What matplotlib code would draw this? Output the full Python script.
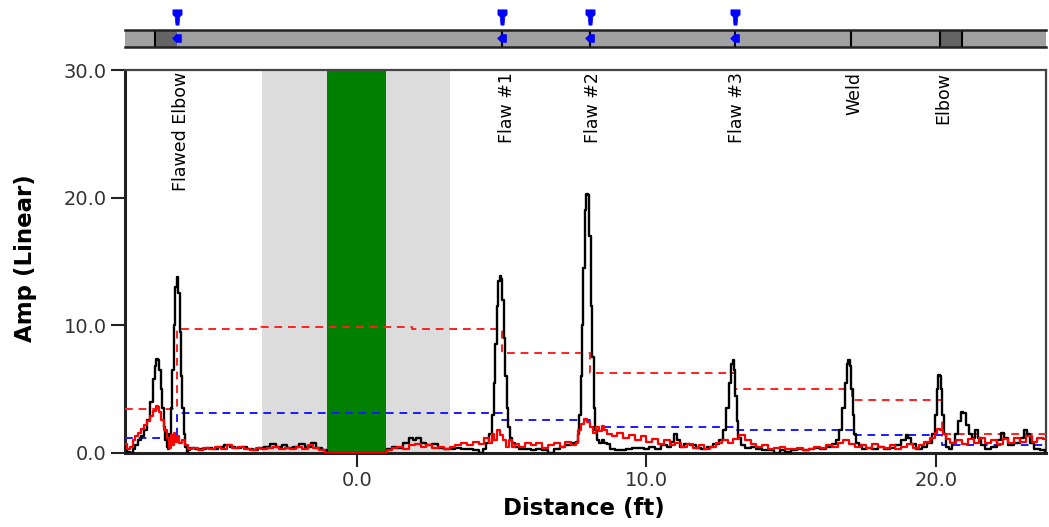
import matplotlib
matplotlib.use("Agg")
import matplotlib.pyplot as plt
from matplotlib.path import Path

plt.rcParams['font.family'] = ['DejaVu Sans']

# ---------------- data ----------------
black_x = [-8.0, -7.9, -7.8, -7.7, -7.6, -7.5, -7.4, -7.3, -7.2, -7.1, -7.0, -6.95, -6.9, -6.85, -6.8,
           -6.75, -6.7, -6.65, -6.6, -6.55, -6.5, -6.45, -6.4, -6.35, -6.3, -6.25, -6.2, -6.15, -6.1,
           -6.05, -6.0, -5.95, -5.9, -5.85, -5.8, -5.7, -5.5, -5.3, -5.1, -4.9, -4.7, -4.5, -4.3, -4.1,
           -3.9, -3.7, -3.5, -3.3, -3.1, -2.9, -2.7, -2.5, -2.3, -2.1, -1.9, -1.7, -1.5, -1.3, -1.1,
           -1.0, -0.5, 0.0, 0.5, 1.0, 1.1, 1.3, 1.5, 1.7, 1.9, 2.0, 2.1, 2.3, 2.5, 2.7, 2.9, 3.1, 3.3,
           3.5, 3.7, 3.9, 4.1, 4.3, 4.4, 4.5, 4.6, 4.7, 4.75, 4.8, 4.85, 4.9, 4.95, 5.0, 5.05, 5.1,
           5.15, 5.2, 5.25, 5.3, 5.4, 5.5, 5.7, 5.9, 6.1, 6.3, 6.5, 6.7, 6.9, 7.1, 7.3, 7.5, 7.6, 7.65,
           7.7, 7.75, 7.8, 7.85, 7.9, 7.95, 8.0, 8.05, 8.1, 8.15, 8.2, 8.25, 8.3, 8.4, 8.5, 8.6, 8.7,
           8.8, 9.0, 9.2, 9.4, 9.6, 9.8, 10.0, 10.2, 10.4, 10.6, 10.8, 10.9, 11.0, 11.1, 11.2, 11.4,
           11.6, 11.8, 12.0, 12.2, 12.4, 12.6, 12.7, 12.8, 12.9, 12.95, 13.0, 13.05, 13.1, 13.15,
           13.2, 13.3, 13.5, 13.7, 13.9, 14.1, 14.3, 14.5, 14.7, 14.9, 15.1, 15.3, 15.5, 15.7, 15.9,
           16.1, 16.3, 16.5, 16.6, 16.7, 16.8, 16.9, 16.95, 17.0, 17.05, 17.1, 17.15, 17.2, 17.3,
           17.4, 17.5, 17.7, 17.9, 18.1, 18.3, 18.5, 18.7, 18.9, 19.0, 19.1, 19.2, 19.4, 19.6, 19.8,
           19.9, 20.0, 20.05, 20.1, 20.15, 20.2, 20.25, 20.3, 20.4, 20.5, 20.6, 20.7, 20.8, 20.9,
           21.0, 21.1, 21.2, 21.3, 21.4, 21.5, 21.6, 21.8, 22.0, 22.2, 22.3, 22.4, 22.6, 22.8, 23.0,
           23.1, 23.2, 23.3, 23.5, 23.7, 23.8]
black_y = [0.4, 0.1, 0.0, 0.3, 0.6, 1.0, 1.3, 1.8, 2.6, 4.0, 5.8, 6.8, 7.4, 7.3, 6.5,
           5.0, 3.5, 2.0, 1.0, 0.5, 0.3, 1.5, 3.5, 6.5, 10.0, 13.0, 13.8, 12.5, 9.5,
           6.0, 3.5, 1.5, 0.5, 0.0, 0.2, 0.4, 0.3, 0.3, 0.4, 0.3, 0.5, 0.6, 0.5, 0.4,
           0.5, 0.3, 0.2, 0.4, 0.5, 0.7, 0.5, 0.6, 0.4, 0.5, 0.7, 0.5, 0.8, 0.4, 0.2,
           0.0, 0.0, 0.0, 0.0, 0.0, 0.3, 0.5, 0.4, 0.8, 1.2, 1.0, 1.2, 0.8, 0.6, 0.7, 0.4, 0.3, 0.3,
           0.4, 0.3, 0.3, 0.2, 0.0, 0.3, 0.8, 1.5, 3.0, 5.5, 8.5, 11.5, 13.5, 13.9, 13.6, 12.0, 9.0,
           6.0, 3.5, 2.0, 1.2, 0.8, 0.5, 0.3, 0.3, 0.2, 0.3, 0.2, 0.0, 0.3, 0.5, 0.6, 0.8, 0.9, 1.5,
           3.0, 6.0, 10.0, 14.5, 19.0, 20.3, 20.2, 17.0, 11.5, 7.5, 3.5, 1.8, 1.0, 0.8, 1.0, 0.8, 0.7,
           0.3, 0.2, 0.2, 0.3, 0.4, 0.4, 0.3, 0.5, 0.3, 0.6, 0.5, 0.9, 1.5, 1.0, 0.5, 0.7,
           0.6, 0.4, 0.3, 0.5, 0.7, 1.0, 1.8, 3.5, 5.5, 7.0, 7.3, 6.5, 4.5, 2.5,
           1.2, 0.6, 0.4, 0.5, 0.3, 0.2, 0.2, 0.0, 0.2, 0.1, 0.2, 0.3, 0.2, 0.3, 0.4,
           0.3, 0.5, 0.7, 1.0, 1.8, 3.5, 5.5, 7.0, 7.3, 6.8, 5.0, 3.0, 1.5, 0.8,
           0.6, 0.3, 0.4, 0.3, 0.5, 0.3, 0.4, 0.6, 1.0, 1.4, 1.2, 0.7, 0.3, 0.5, 0.8,
           1.5, 3.0, 5.0, 6.1, 6.0, 5.0, 3.0, 1.5, 0.5, 0.3, 0.8, 1.5, 2.5, 3.2,
           3.1, 2.2, 1.5, 1.2, 1.8, 1.2, 0.6, 0.3, 0.5, 1.0, 1.6, 1.2, 0.6, 0.8, 1.2,
           1.8, 1.5, 0.8, 0.3, 0.2, 0.1]

red_x = [-8.0, -7.9, -7.8, -7.7, -7.6, -7.5, -7.4, -7.3, -7.2, -7.1, -7.0, -6.9, -6.85, -6.8, -6.7,
         -6.6, -6.5, -6.45, -6.4, -6.35, -6.3, -6.25, -6.2, -6.1, -6.0, -5.9, -5.8, -5.6, -5.4, -5.2,
         -5.0, -4.8, -4.6, -4.4, -4.2, -4.0, -3.8, -3.6, -3.4, -3.2, -3.0, -2.8, -2.6, -2.4, -2.2,
         -2.0, -1.8, -1.6, -1.4, -1.2, -1.0, -0.5, 0.0, 0.5, 1.0, 1.1, 1.3, 1.5, 1.7, 1.9, 2.1, 2.3,
         2.5, 2.7, 2.9, 3.1, 3.3, 3.5, 3.7, 3.9, 4.1, 4.3, 4.5, 4.6, 4.7, 4.8, 4.9, 5.0, 5.1, 5.2,
         5.3, 5.4, 5.5, 5.7, 5.9, 6.1, 6.3, 6.5, 6.7, 6.9, 7.1, 7.3, 7.5, 7.6, 7.7, 7.8, 7.9, 8.0,
         8.1, 8.2, 8.3, 8.4, 8.5, 8.6, 8.7, 8.9, 9.1, 9.3, 9.5, 9.7, 9.9, 10.1, 10.3, 10.5, 10.7,
         10.9, 11.1, 11.3, 11.5, 11.7, 11.9, 12.1, 12.3, 12.5, 12.7, 12.9, 13.1, 13.3, 13.5, 13.7,
         13.9, 14.1, 14.3, 14.5, 14.7, 14.9, 15.1, 15.3, 15.5, 15.7, 15.9, 16.1, 16.3, 16.5, 16.7,
         16.9, 17.1, 17.3, 17.5, 17.7, 17.9, 18.1, 18.3, 18.5, 18.7, 18.9, 19.1, 19.3, 19.5, 19.7,
         19.9, 20.0, 20.1, 20.2, 20.3, 20.4, 20.6, 20.8, 21.0, 21.2, 21.4, 21.6, 21.8, 22.0, 22.2,
         22.4, 22.6, 22.8, 23.0, 23.2, 23.4, 23.6, 23.8]
red_y = [0.7, 0.3, 0.5, 1.0, 1.3, 1.6, 1.9, 2.2, 2.5, 2.9, 3.3, 3.7, 3.6, 3.2, 2.6,
         1.8, 1.2, 0.4, 1.4, 0.6, 1.6, 0.9, 1.3, 0.8, 1.0, 0.6, 0.3, 0.4, 0.2, 0.4,
         0.3, 0.5, 0.3, 0.6, 0.4, 0.5, 0.3, 0.2, 0.4, 0.3, 0.4, 0.5, 0.3, 0.4, 0.3,
         0.5, 0.3, 0.6, 0.4, 0.2, 0.0, 0.0, 0.0, 0.0, 0.0, 0.2, 0.4, 0.5, 0.3, 0.6, 0.7, 0.5,
         0.6, 0.4, 0.5, 0.3, 0.5, 0.6, 0.8, 0.6, 0.9, 0.7, 1.2, 0.8, 1.5, 1.0, 1.8, 1.4, 1.0, 0.5,
         1.0, 0.5, 0.7, 0.5, 0.8, 0.6, 0.8, 0.4, 0.6, 0.8, 0.5, 0.9, 0.6, 0.8, 1.8, 2.3, 2.7, 2.4,
         2.0, 1.6, 2.0, 1.7, 2.1, 1.8, 1.5, 1.3, 1.6, 1.2, 1.4, 1.0, 1.3, 0.9, 1.1, 0.7, 1.0,
         0.6, 0.8, 0.5, 0.7, 0.4, 0.6, 0.3, 0.5, 0.8, 1.0, 0.8, 1.1, 1.4, 1.0, 0.7,
         0.5, 0.6, 0.3, 0.4, 0.5, 0.3, 0.3, 0.4, 0.2, 0.3, 0.5, 0.4, 0.6, 0.5, 0.8,
         1.0, 0.7, 0.5, 0.6, 0.4, 0.7, 0.5, 0.4, 0.6, 0.3, 0.5, 0.7, 0.4, 0.6, 0.9,
         1.2, 1.6, 1.9, 1.8, 1.5, 1.1, 0.8, 1.0, 0.7, 1.1, 0.8, 1.2, 0.8, 1.0, 0.7,
         1.1, 0.8, 1.2, 0.9, 1.3, 0.9, 1.2, 1.1]

red_thr_edges = [-8.0, -6.2, -3.3, 1.9, 5.0, 8.05, 13.05, 17.1, 20.2, 23.8]
red_thr_vals = [3.45, 9.7, 9.9, 9.7, 7.85, 6.25, 5.05, 4.15, 1.45]
blue_thr_edges = [-8.0, -6.2, 5.0, 8.05, 13.05, 17.1, 20.2, 23.8]
blue_thr_vals = [1.15, 3.15, 2.55, 2.05, 1.8, 1.4, 0.6]

label_names = ["Flawed Elbow", "Flaw #1", "Flaw #2", "Flaw #3", "Weld", "Elbow"]
label_pos = [-6.08, 5.18, 8.15, 13.13, 17.2, 20.24]

marker_pos = [-6.22, 5.0, 8.05, 13.05]
strip_lines = [-6.98, 5.0, 8.05, 13.06, 17.06, 20.14, 20.89]
strip_dark = [(-6.98, -6.22), (20.14, 20.89)]

gray_band = (-3.27, 3.22)
green_band = (-1.02, 1.0)

x_ticks = [0, 10, 20]
y_ticks = [0, 10, 20, 30]
XLIM = (-8.01, 23.8)
YLIM = (0, 30)

# ---------------- figure ----------------
fig = plt.figure(figsize=(10.49, 5.27), dpi=100)
L, R = 125 / 1049, 1046 / 1049
ax = fig.add_axes([L, 1 - 453 / 527, R - L, (453 - 70) / 527])
strip = fig.add_axes([L, 1 - 46.7 / 527, R - L, (46.7 - 30) / 527])

ax.axvspan(*gray_band, color='#dcdcdc', lw=0, zorder=0)
ax.axvspan(*green_band, color='#008000', lw=0, zorder=1)

def stepline(edges, vals):
    xs, ys = [], []
    for i, v in enumerate(vals):
        xs += [edges[i], edges[i + 1]]
        ys += [v, v]
    return xs, ys

bx, by = stepline(blue_thr_edges, blue_thr_vals)
ax.plot(bx, by, color='#1a1aff', lw=1.4, ls=(0, (4, 3)), zorder=3)
rx, ry = stepline(red_thr_edges, red_thr_vals)
ax.plot(rx, ry, color='#ff2020', lw=1.4, ls=(0, (4, 3)), zorder=3)

ax.plot(black_x, black_y, color='black', lw=1.7, drawstyle='steps-mid', zorder=4)
ax.plot(red_x, red_y, color='#ff0000', lw=1.6, drawstyle='steps-mid', zorder=5)

for name, xp in zip(label_names, label_pos):
    ax.text(xp, 29.85, name, rotation=90, ha='center', va='top', fontsize=12.5, color='black', zorder=6)

ax.set_xlim(*XLIM)
ax.set_ylim(*YLIM)
ax.set_xticks(x_ticks)
ax.set_xticklabels([f"{v:.1f}" for v in x_ticks])
ax.set_yticks(y_ticks)
ax.set_yticklabels([f"{v:.1f}" for v in y_ticks])
ax.tick_params(direction='out', length=10, width=1.5, labelsize=14, labelcolor='#333333', color='#222222', pad=3)
for side in ['left', 'bottom']:
    ax.spines[side].set_linewidth(2.2)
    ax.spines[side].set_color('#222222')
for side in ['top', 'right']:
    ax.spines[side].set_linewidth(1.6)
    ax.spines[side].set_color('#444444')

ax.set_xlabel('Distance (ft)', fontsize=16.5, fontweight='bold')
ax.set_ylabel('Amp (Linear)', fontsize=16.5, fontweight='bold')
ax.xaxis.set_label_coords(0.498, -0.115)
ax.yaxis.set_label_coords(-0.0955, 0.51)

# ---------------- strip ----------------
strip.set_xlim(*XLIM)
strip.set_ylim(0, 1)
strip.axvspan(XLIM[0], XLIM[1], color='#a0a0a0', lw=0, zorder=0)
for a, b in strip_dark:
    strip.axvspan(a, b, color='#646464', lw=0, zorder=1)
for xl in strip_lines:
    strip.axvline(xl, color='black', lw=1.5, zorder=2)
strip.set_xticks([])
strip.set_yticks([])
for side in ['left', 'right']:
    strip.spines[side].set_visible(False)
for side in ['top', 'bottom']:
    strip.spines[side].set_linewidth(1.8)
    strip.spines[side].set_color('#222222')

pin = Path([(-0.6, 1), (0.6, 1), (0.6, 0.35), (0.3, 0.1), (0.2, -1), (-0.2, -1), (-0.3, 0.1), (-0.6, 0.35), (-0.6, 1)],
           [Path.MOVETO] + [Path.LINETO] * 7 + [Path.CLOSEPOLY])
tag = Path([(-1, 0), (-0.2, 0.8), (0.8, 0.8), (0.8, -0.8), (-0.2, -0.8), (-1, 0)],
           [Path.MOVETO] + [Path.LINETO] * 4 + [Path.CLOSEPOLY])
strip.plot(marker_pos, [1.8] * len(marker_pos), ls='none', marker=pin, ms=11, color='#0000ff',
           mec='#0000ff', mew=0.5, clip_on=False, zorder=5)
strip.plot(marker_pos, [0.5] * len(marker_pos), ls='none', marker=tag, ms=7, color='#0000ff',
           mec='#0000ff', mew=0.5, clip_on=False, zorder=5)

fig.savefig('out.png', dpi=100)
